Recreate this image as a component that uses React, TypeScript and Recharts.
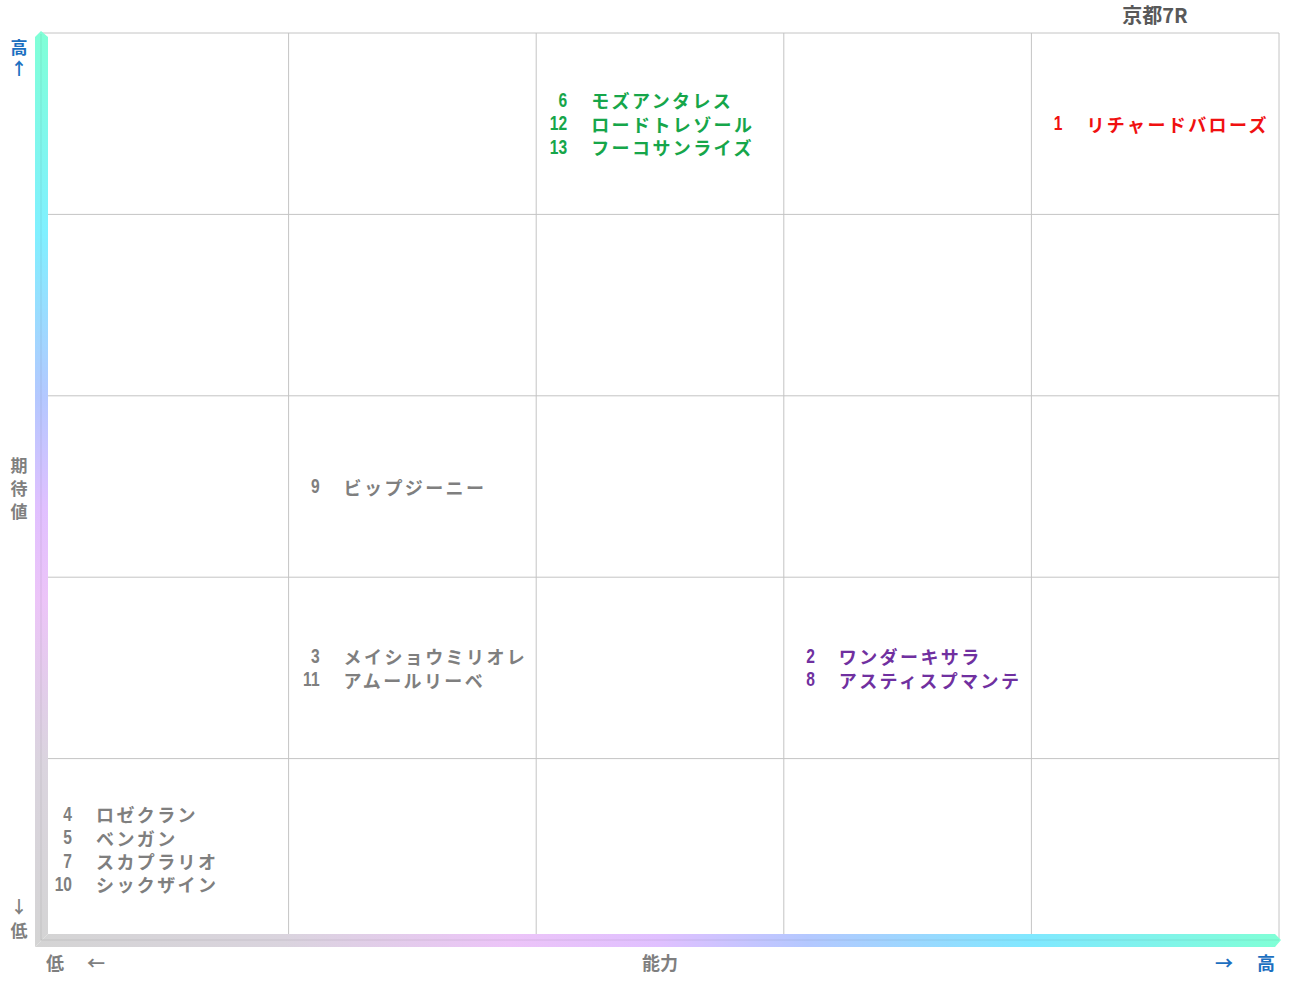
import React from 'react';
import { ScatterChart, Scatter, XAxis, YAxis, CartesianGrid, Customized } from 'recharts';

const title = '京都7R';
const xAxisTitle = '能力';
const yAxisTitle = ['期', '待', '値'];
const highText = '高';
const lowText = '低';

const horseNumbers = [1, 2, 3, 4, 5, 6, 7, 8, 9, 10, 11, 12, 13];
const horseNames = [
  'リチャードバローズ',
  'ワンダーキサラ',
  'メイショウミリオレ',
  'ロゼクラン',
  'ベンガン',
  'モズアンタレス',
  'スカプラリオ',
  'アスティスプマンテ',
  'ビップジーニー',
  'シックザイン',
  'アムールリーベ',
  'ロードトレゾール',
  'フーコサンライズ',
];
// cell index along 能力 (0 = low .. 4 = high)
const abilityCells = [4, 3, 1, 0, 0, 2, 0, 3, 1, 0, 1, 2, 2];
// cell index along 期待値 (0 = low .. 4 = high)
const expectationCells = [4, 1, 1, 0, 0, 4, 0, 1, 2, 0, 1, 4, 4];
const gridTicks = [0, 1, 2, 3, 4, 5];

const W = 1291;
const H = 983;
const M = { top: 33, right: 12, bottom: 43, left: 41 };
const PL = M.left;
const PT = M.top;
const PR = W - M.right;
const PB = H - M.bottom;

const GRAY = '#7f7f7f';
const BLUE = '#1c6fc0';
const cellColor = (c: number, r: number) => {
  if (c === 4 && r === 4) return '#f01010';
  if (c === 2 && r === 4) return '#16a64a';
  if (c === 3 && r === 1) return '#7030a0';
  return GRAY;
};

const data = horseNumbers.map((num, i) => {
  const c = abilityCells[i];
  const r = expectationCells[i];
  const same = horseNumbers.filter((_, j) => abilityCells[j] === c && expectationCells[j] === r);
  return {
    x: c,
    y: r + 0.5,
    num,
    name: horseNames[i],
    line: same.indexOf(num),
    count: same.length,
    color: cellColor(c, r),
  };
});

const HorseLabel = (props: any) => {
  const { cx, cy, payload } = props;
  if (cx == null || cy == null) return null;
  const y = cy + (payload.line - (payload.count - 1) / 2) * 23.3;
  return (
    <g>
      <text
        x={0}
        y={0}
        transform={`translate(${cx + 31},${y}) scale(0.78,1)`}
        textAnchor="end"
        dominantBaseline="central"
        fontFamily="'Liberation Sans Narrow','Liberation Sans',sans-serif"
        fontSize={20}
        fontWeight={600}
        fill={payload.color}
      >
        {payload.num}
      </text>
      <text
        x={cx + 55}
        y={y}
        dominantBaseline="central"
        fontFamily="'Noto Sans CJK JP',sans-serif"
        fontWeight="bold"
        fontSize={18}
        letterSpacing={2.4}
        fill={payload.color}
      >
        {payload.name}
      </text>
    </g>
  );
};

const txt = (x: number, y: number, s: string, fill: string, size = 18, key?: string) => (
  <text
    key={key ?? s + x + y}
    x={x}
    y={y}
    textAnchor="middle"
    dominantBaseline="central"
    fontFamily="'Noto Sans CJK JP',sans-serif"
    fontWeight="bold"
    fontSize={size}
    fill={fill}
  >
    {s}
  </text>
);

const Decorations = () => {
  const bw = 13;
  const lx0 = PL - 6;
  const lx1 = lx0 + bw;
  const by0 = PB - 6;
  const by1 = by0 + bw;
  return (
    <g>
      <defs>
        <linearGradient id="vgrad" gradientUnits="userSpaceOnUse" x1={0} y1={PT - 2} x2={0} y2={by1}>
          <stop offset="0" stopColor="#80ffd6" />
          <stop offset="0.22" stopColor="#80f0ff" />
          <stop offset="0.4" stopColor="#b4c8ff" />
          <stop offset="0.52" stopColor="#e0c0ff" />
          <stop offset="0.62" stopColor="#ecc4f8" />
          <stop offset="0.8" stopColor="#dad4de" />
          <stop offset="1" stopColor="#d4d4d4" />
        </linearGradient>
        <linearGradient id="hgrad" gradientUnits="userSpaceOnUse" x1={lx0} y1={0} x2={PR + 2} y2={0}>
          <stop offset="0" stopColor="#d4d4d4" />
          <stop offset="0.2" stopColor="#dad4de" />
          <stop offset="0.38" stopColor="#ecc4f8" />
          <stop offset="0.5" stopColor="#e0c0ff" />
          <stop offset="0.62" stopColor="#b4c8ff" />
          <stop offset="0.8" stopColor="#80e8ff" />
          <stop offset="1" stopColor="#80ffd6" />
        </linearGradient>
      </defs>
      <polygon
        points={`${lx0},${PT + 4} ${PL},${PT - 2} ${lx1},${PT + 4} ${lx1},${by0} ${lx0},${by1}`}
        fill="url(#vgrad)"
      />
      <polygon
        points={`${lx0},${by1} ${lx1},${by0} ${PR - 4},${by0} ${PR + 2},${PB} ${PR - 4},${by1}`}
        fill="url(#hgrad)"
      />
      <line x1={PL} y1={PT + 1} x2={PL} y2={PB} stroke="rgba(0,0,0,0.08)" strokeWidth={1} />
      <line x1={PL} y1={PB} x2={PR} y2={PB} stroke="rgba(0,0,0,0.08)" strokeWidth={1} />

      {txt(1155, 14, title, '#595959', 20)}

      {txt(19, 46, highText, BLUE, 17)}
      {txt(19, 67, '↑', BLUE, 17)}
      {yAxisTitle.map((s, i) => txt(19, 464 + i * 23, s, GRAY, 17, 'yt' + i))}
      {txt(19, 905, '↓', GRAY, 17)}
      {txt(19, 929, lowText, GRAY, 17)}

      {txt(55, 962, lowText, GRAY)}
      {txt(96, 962, '←', GRAY)}
      {txt(660, 962, xAxisTitle, GRAY)}
      {txt(1224, 962, '→', BLUE)}
      {txt(1266, 962, highText, BLUE)}
    </g>
  );
};

export default function App() {
  return (
    <div style={{ position: 'absolute', left: 0, top: 0, width: W, height: H, background: '#fff' }}>
      <ScatterChart width={W} height={H} margin={M}>
        <CartesianGrid stroke="#c4c4c4" strokeWidth={1} />
        <XAxis type="number" dataKey="x" domain={[0, 5]} ticks={gridTicks} hide />
        <YAxis type="number" dataKey="y" domain={[0, 5]} ticks={gridTicks} hide />
        <Customized component={Decorations} />
        <Scatter data={data} shape={HorseLabel} isAnimationActive={false} />
      </ScatterChart>
    </div>
  );
}
